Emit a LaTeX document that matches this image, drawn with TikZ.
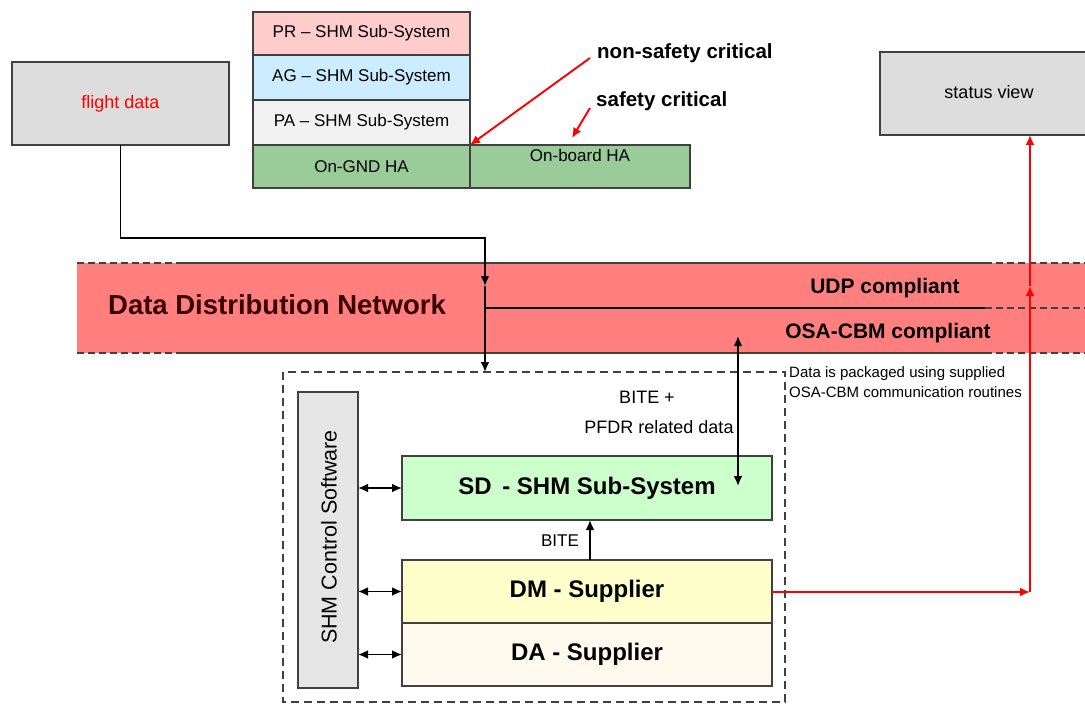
\documentclass[tikz,border=0pt]{standalone}
\usepackage{fontspec}
\setmainfont{Liberation Sans}
\usetikzlibrary{arrows.meta}
\definecolor{prc}{HTML}{FFCCCC}
\definecolor{agc}{HTML}{CCECFF}
\definecolor{pac}{HTML}{F2F2F2}
\definecolor{grc}{HTML}{99CC99}
\definecolor{grayc}{HTML}{DDDDDD}
\definecolor{ctrlc}{HTML}{E6E6E6}
\definecolor{sdc}{HTML}{CCFFCC}
\definecolor{dmc}{HTML}{FFFFCC}
\definecolor{dac}{HTML}{FFF9EE}
\definecolor{netc}{HTML}{FF7F7F}
\definecolor{edgec}{HTML}{404040}
\definecolor{netText}{HTML}{3A0000}
\begin{document}
\begin{tikzpicture}[x=1pt,y=-1pt,
  box/.style={draw=edgec, line width=2.2pt, inner sep=0pt, outer sep=0pt, font=\fontsize{17}{19}\selectfont},
  conn/.style={draw=black, line width=1.9pt},
  tip/.style={-{Latex[length=10pt,width=9pt]}},
  dtip/.style={{Latex[length=10pt,width=9pt]}-{Latex[length=10pt,width=9pt]}},
  rconn/.style={draw=red, line width=1.9pt},
  dashb/.style={draw=edgec, line width=2.2pt, dash pattern=on 7pt off 4pt},
  solb/.style={draw=edgec, line width=2.2pt},
  lab/.style={inner sep=0pt, font=\fontsize{18}{20}\selectfont},
  blab/.style={inner sep=0pt, font=\bfseries\fontsize{21}{23}\selectfont},
  bigb/.style={font=\bfseries\fontsize{24}{26}\selectfont}
]
\useasboundingbox (0,0) rectangle (1085,706);

% top stack
\node[box, fill=prc, minimum width=217pt, minimum height=43pt] (pr) at (361.5,33.5) {PR -- SHM Sub-System};
\node[box, fill=agc, minimum width=217pt, minimum height=45pt] (ag) at (361.5,77.5) {AG -- SHM Sub-System};
\node[box, fill=pac, minimum width=217pt, minimum height=45pt] (pa) at (361.5,122.5) {PA -- SHM Sub-System};
\node[box, fill=grc, minimum width=217pt, minimum height=43pt] (gnd) at (361.5,166.5) {On-GND HA};
\node[box, fill=grc, minimum width=220pt, minimum height=43pt, text depth=22pt] (onb) at (580,166.5) {On-board HA};

% labels with red arrows
\node[blab, anchor=west, font=\bfseries\fontsize{20.5}{22}\selectfont] (nsc) at (597,53) {non-safety critical};
\node[blab, anchor=west, font=\bfseries\fontsize{20.5}{22}\selectfont] (sc) at (596,101) {safety critical};
\coordinate (nscS) at (590,58);
\coordinate (scS) at (590,108);
\coordinate (scE) at (572,138);
\draw[rconn, tip] (nscS) -- (gnd.north east);
\draw[rconn, tip] (scS) -- (scE);

% flight data and status view
\node[box, fill=grayc, minimum width=217pt, minimum height=83pt, text=red, font=\fontsize{18}{20}\selectfont] (fd) at (120.5,103.5) {flight data};
\node[box, fill=grayc, minimum width=230pt, minimum height=83pt, text depth=0pt] (sv) at (995,93.5) {};
\node[lab] (svt) at (989,92) {status view};

% network band
\fill[netc] (77,263) rectangle (1090,353);
\draw[dashb] (77,263) -- (183,263);
\draw[solb] (183,263) -- (985,263);
\draw[dashb] (985,263) -- (1090,263);
\draw[dashb] (77,353) -- (183,353);
\draw[solb] (183,353) -- (985,353);
\draw[dashb] (985,353) -- (1090,353);
\draw[black, line width=1.9pt] (484,308) -- (985,308);
\draw[dashb] (985,308) -- (1090,308);
\node[inner sep=0pt, text=netText, font=\bfseries\fontsize{27.5}{30}\selectfont] (ddn) at (277,305) {Data Distribution Network};
\node[blab] (udp) at (885,288) {UDP compliant};
\node[blab] (osa) at (888,333) {OSA-CBM compliant};

% flight data connector
\coordinate (j1) at (485,238);
\coordinate (m1) at (485,286);
\coordinate (ctop) at (485,372);
\draw[conn, tip] (fd.south) |- (j1) -- (m1);
\draw[conn, tip] (m1) -- (ctop);

% container
\draw[dashb, line width=2pt, dash pattern=on 8pt off 5pt] (283,372) rectangle (785,702);
\node[inner sep=0pt, anchor=west, align=left, font=\fontsize{15}{20}\selectfont] (note) at (789,382) {Data is packaged using supplied\\OSA-CBM communication routines};

% inner boxes
\node[box, fill=ctrlc, minimum width=60pt, minimum height=296pt] (ctrl) at (328,540) {};
\node[lab, rotate=90, font=\fontsize{21.5}{23}\selectfont] (ctrlt) at (329,537) {SHM Control Software};
\node[box, fill=sdc, minimum width=370pt, minimum height=64pt, bigb] (sd) at (587,488) {SD\, - SHM Sub-System};
\node[box, fill=dmc, minimum width=370pt, minimum height=63pt, bigb] (dm) at (587,591.5) {DM - Supplier};
\node[box, fill=dac, minimum width=370pt, minimum height=63pt, bigb] (da) at (587,654.5) {DA - Supplier};

\draw[conn, dtip] (ctrl.east |- sd) -- (sd.west);
\draw[conn, dtip] (ctrl.east |- dm) -- (dm.west);
\draw[conn, dtip] (ctrl.east |- da) -- (da.west);

% BITE
\coordinate (bitex) at (590,0);
\draw[conn, tip] (bitex |- dm.north) -- (bitex |- sd.south);
\node[lab, font=\fontsize{17}{19}\selectfont] (bite) at (560,541) {BITE};

% BITE + PFDR
\coordinate (pb) at (738,336);
\coordinate (pe) at (738,486);
\draw[conn, dtip] (pb) -- (pe);
\node[lab] (bp1) at (647,397) {BITE +};
\node[lab] (bp2) at (659,427) {PFDR related data};

% red status connector
\coordinate (rc) at (1030,592);
\coordinate (rmid) at (1030,286);
\draw[rconn, tip] (dm.east |- rc) -- (rc);
\draw[rconn, tip] (rc) -- (rmid);
\draw[rconn, tip] (rmid) -- (rc |- sv.south);
\end{tikzpicture}
\end{document}
